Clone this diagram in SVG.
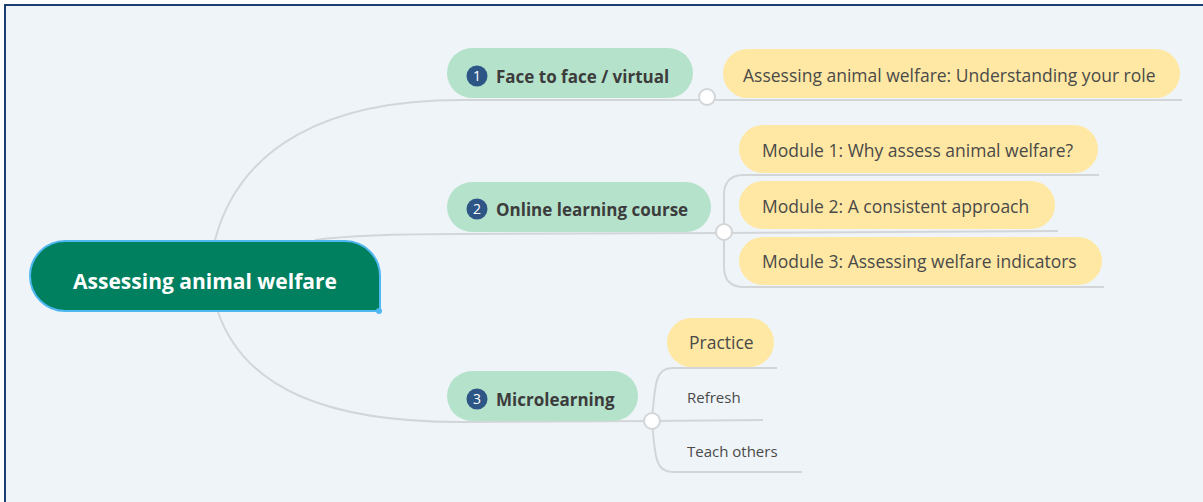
<svg xmlns="http://www.w3.org/2000/svg" width="1203" height="502" viewBox="0 0 1203 502">
<style>
.conn{fill:none;stroke:#D3D6D9;stroke-width:2}
.hub{fill:#FFFFFF;stroke:#D3D6D9;stroke-width:2}
.l1{fill:#B5E2CB}
.l2{fill:#FFE8A3}
.badge{fill:#2D5586}
.bt{font-family:"Open Sans","Liberation Sans",sans-serif;font-size:14px;fill:#FFFFFF;text-anchor:middle}
.t1{font-family:"Open Sans","Liberation Sans",sans-serif;font-size:17px;font-weight:bold;fill:#3C3C3C}
.t2{font-family:"Open Sans","Liberation Sans",sans-serif;font-size:17.5px;fill:#4A4A4A}
.t3{font-family:"Open Sans","Liberation Sans",sans-serif;font-size:15px;fill:#4A4A4A}
</style>
<rect x="0" y="0" width="1203" height="502" fill="#FFFFFF"/>
<rect x="5" y="5" width="1220" height="520" fill="#EFF4F8" stroke="#1E3D74" stroke-width="2"/>
<g id="connectors">
<path class="conn" d="M215,240 C240,145 330,100 460,100 L1182,100"/>
<path class="conn" d="M315,240 Q360,234 460,234 L724,233"/>
<path class="conn" d="M218,312 C245,390 330,422 460,422 L652,421"/>
<path class="conn" d="M724,233 L724,195 Q724,175 744,175 L1099,175"/>
<path class="conn" d="M724,233 L1058,231"/>
<path class="conn" d="M724,233 L724,267 Q724,287 744,287 L1104,287"/>
<path class="conn" d="M652,421 C655,385 655,368 672,368 L777,368"/>
<path class="conn" d="M652,421 L763,420"/>
<path class="conn" d="M652,421 C655,455 655,472 672,472 L802,472"/>
<circle class="hub" cx="707" cy="97" r="8"/>
<circle class="hub" cx="724" cy="232" r="8"/>
<circle class="hub" cx="652" cy="421" r="8"/>
</g>
<g id="root">
<path d="M65,241 L345,241 A35,35 0 0 1 380,276 L380,311 L65,311 A35,35 0 0 1 65,241 Z" fill="#00805F" stroke="#4FB8F0" stroke-width="2"/>
<circle cx="379" cy="311" r="3" fill="#4FB8F0"/>
<text x="205" y="289" text-anchor="middle" font-family="'Open Sans','Liberation Sans',sans-serif" font-size="21" font-weight="bold" fill="#FFFFFF">Assessing animal welfare</text>
</g>
<g id="n1">
<rect class="l1" x="447" y="48" width="246" height="50" rx="25"/>
<circle class="badge" cx="477" cy="76" r="10.5"/>
<text class="bt" x="477" y="81">1</text>
<text class="t1" x="496" y="83">Face to face / virtual</text>
</g>
<g id="n2">
<rect class="l1" x="447" y="182" width="264" height="50" rx="25"/>
<circle class="badge" cx="477" cy="209" r="10.5"/>
<text class="bt" x="477" y="214">2</text>
<text class="t1" x="496" y="216">Online learning course</text>
</g>
<g id="n3">
<rect class="l1" x="447" y="371" width="191" height="50" rx="25"/>
<circle class="badge" cx="477" cy="399" r="10.5"/>
<text class="bt" x="477" y="404">3</text>
<text class="t1" x="496" y="406">Microlearning</text>
</g>
<g id="n1a">
<rect class="l2" x="723" y="49" width="457" height="49" rx="24.5"/>
<text class="t2" x="743" y="82">Assessing animal welfare: Understanding your role</text>
</g>
<g id="n2a">
<rect class="l2" x="739" y="125" width="359" height="48" rx="24"/>
<text class="t2" x="762" y="157">Module 1: Why assess animal welfare?</text>
</g>
<g id="n2b">
<rect class="l2" x="739" y="181" width="316" height="48" rx="24"/>
<text class="t2" x="762" y="213">Module 2: A consistent approach</text>
</g>
<g id="n2c">
<rect class="l2" x="739" y="237" width="363" height="48" rx="24"/>
<text class="t2" x="762" y="268">Module 3: Assessing welfare indicators</text>
</g>
<g id="n3a">
<rect class="l2" x="667" y="318" width="107" height="49" rx="24.5"/>
<text class="t2" x="689" y="349">Practice</text>
</g>
<g id="n3b">
<text class="t3" x="687" y="403">Refresh</text>
</g>
<g id="n3c">
<text class="t3" x="687" y="457">Teach others</text>
</g>
</svg>
